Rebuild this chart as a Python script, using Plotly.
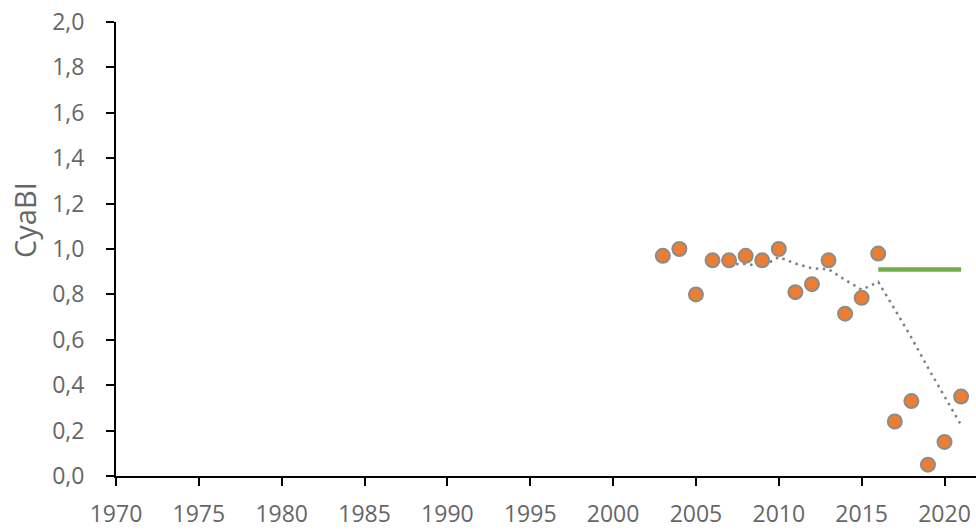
import plotly.graph_objects as go
import pandas as pd

years = [2003, 2004, 2005, 2006, 2007, 2008, 2009, 2010, 2011, 2012,
         2013, 2014, 2015, 2016, 2017, 2018, 2019, 2020, 2021]
cyabi = [0.97, 1.00, 0.80, 0.95, 0.95, 0.97, 0.95, 1.00, 0.81, 0.845,
         0.95, 0.715, 0.785, 0.98, 0.24, 0.33, 0.05, 0.15, 0.35]
target_years = [2016, 2021]
target_value = [0.91, 0.91]
ma_window = 5

ma = pd.Series(cyabi, index=years).rolling(ma_window).mean().dropna()

x_ticks = list(range(1970, 2021, 5))
y_ticks = [round(0.2 * i, 1) for i in range(11)]

W, H = 976, 531
L, R, T, B = 116, 0, 22, 55
TEXT = "#666666"

fig = go.Figure()
fig.add_trace(go.Scatter(
    x=target_years, y=target_value, mode="lines",
    line=dict(color="#70AD47", width=4.5), showlegend=False, hoverinfo="skip"))
fig.add_trace(go.Scatter(
    x=list(ma.index), y=list(ma.values), mode="lines",
    line=dict(color="#808080", width=2.5, dash="2.5px,4.5px"), showlegend=False))
fig.add_trace(go.Scatter(
    x=years, y=cyabi, mode="markers",
    marker=dict(size=14, color="#ED7D31", line=dict(color="#8C8C8C", width=2)),
    showlegend=False))

font_family = "Open Sans, Segoe UI, DejaVu Sans, sans-serif"
title_x = (24 - L) / (W - L - R)
title_y = 1 - (220 - T) / (H - T - B)
fig.add_annotation(text="CyaBI", xref="paper", yref="paper", x=title_x, y=title_y,
                   xanchor="center", yanchor="middle", textangle=-90,
                   showarrow=False, font=dict(size=29, color=TEXT, family=font_family))

fig.update_layout(
    width=W, height=H,
    margin=dict(l=L, r=R, t=T, b=B),
    plot_bgcolor="white", paper_bgcolor="white",
    separators=",.",
    font=dict(family=font_family, color=TEXT, size=23),
    xaxis=dict(range=[1970, 2021.9], tickvals=x_ticks, ticks="outside",
               ticklen=8, tickwidth=2, tickcolor="black", showline=True,
               linecolor="black", linewidth=2, showgrid=False, zeroline=False,
               ticklabelstandoff=8, ticklabeloverflow="allow",
               tickfont=dict(size=23, color=TEXT)),
    yaxis=dict(range=[0, 2.0], tickvals=y_ticks, tickformat=".1f",
               ticks="outside", ticklen=8, tickwidth=2, tickcolor="black",
               showline=True, linecolor="black", linewidth=2, showgrid=False,
               zeroline=False, ticklabelstandoff=17, ticklabeloverflow="allow",
               tickfont=dict(size=23, color=TEXT)),
)
fig.write_html("out.html", config={"displayModeBar": False},
               post_script="document.body.style.margin='0';document.body.style.overflow='hidden';")
